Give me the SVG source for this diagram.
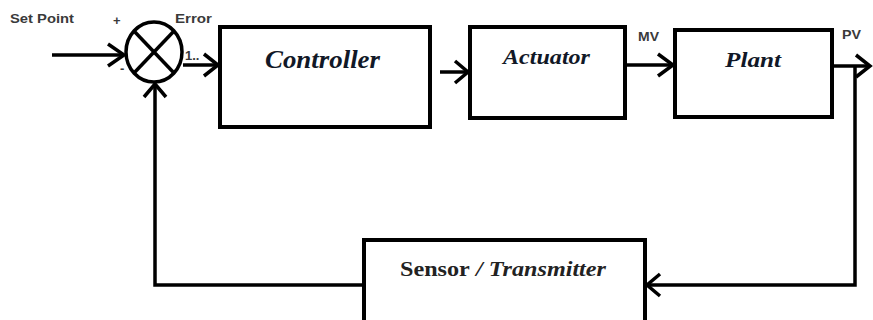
<svg xmlns="http://www.w3.org/2000/svg" width="873" height="320" viewBox="0 0 873 320">
<style>
.box{fill:#fff;stroke:#000;stroke-width:4}
.ln{fill:none;stroke:#000;stroke-width:3.5}
.hd{fill:none;stroke:#000;stroke-width:3.5;stroke-linejoin:miter}
.lbl{font-family:"Liberation Sans",Arial,sans-serif;font-weight:bold;font-size:13px;fill:#3a3a3a}
.bt{font-family:"Liberation Serif","Times New Roman",serif;font-weight:bold;font-style:italic;fill:#111827}
</style>
<rect width="873" height="320" fill="#fff"/>
<g id="labels">
<text class="lbl" x="10" y="23" textLength="64" lengthAdjust="spacingAndGlyphs">Set Point</text>
<text class="lbl" x="113" y="25" font-size="8">+</text>
<text class="lbl" x="120" y="73" font-size="9">-</text>
<text class="lbl" x="175" y="23" textLength="37" lengthAdjust="spacingAndGlyphs">Error</text>
<text class="lbl" x="185" y="60" font-size="11">1..</text>
<text class="lbl" x="638" y="41" textLength="21" lengthAdjust="spacingAndGlyphs">MV</text>
<text class="lbl" x="842" y="39" textLength="19" lengthAdjust="spacingAndGlyphs">PV</text>
</g>
<g id="sum">
<ellipse cx="154" cy="52" rx="28" ry="30" class="ln"/>
<line x1="134" y1="31" x2="174" y2="73" class="ln"/>
<line x1="174" y1="31" x2="134" y2="73" class="ln"/>
</g>
<g id="controller">
<rect x="220" y="27" width="210" height="100" class="box"/>
<text class="bt" x="265" y="68" font-size="25" textLength="115" lengthAdjust="spacingAndGlyphs">Controller</text>
</g>
<g id="actuator">
<rect x="470" y="27" width="155" height="91" class="box"/>
<text class="bt" x="503" y="64" font-size="20" textLength="87" lengthAdjust="spacingAndGlyphs">Actuator</text>
</g>
<g id="plant">
<rect x="675" y="30" width="157" height="87" class="box"/>
<text class="bt" x="725" y="67" font-size="22" textLength="56" lengthAdjust="spacingAndGlyphs">Plant</text>
</g>
<g id="sensor">
<rect x="364" y="240" width="281" height="84" class="box"/>
<text x="400" y="276" font-size="21" textLength="206" lengthAdjust="spacingAndGlyphs" font-family="'Liberation Serif','Times New Roman',serif" font-weight="bold" fill="#222"><tspan>Sensor</tspan><tspan font-style="italic"> / Transmitter</tspan></text>
</g>
<g id="connectors">
<line x1="52" y1="55" x2="124" y2="55" class="ln"/>
<polyline points="108,44 124,55 108,66" class="hd"/>
<line x1="183" y1="65" x2="218" y2="65" class="ln"/>
<polyline points="204,54 218,65 204,76" class="hd"/>
<line x1="440" y1="72" x2="468" y2="72" class="ln"/>
<polyline points="455,61 468,72 455,83" class="hd"/>
<line x1="625" y1="65" x2="673" y2="65" class="ln"/>
<polyline points="658,54 673,65 658,76" class="hd"/>
<line x1="832" y1="66" x2="870" y2="66" class="ln"/>
<polyline points="856,55 870,66 856,77" class="hd"/>
<polyline points="855,66 855,285 647,285" class="ln"/>
<polyline points="660,274 647,285 660,296" class="hd"/>
<polyline points="362,285 155,285 155,84" class="ln"/>
<polyline points="144,97 155,84 166,97" class="hd"/>
</g>
</svg>
